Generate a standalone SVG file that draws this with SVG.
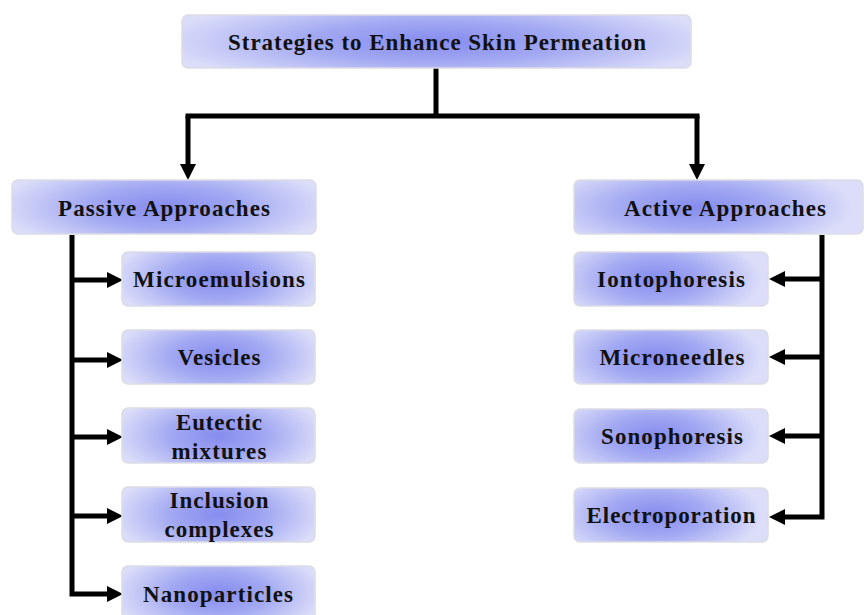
<svg xmlns="http://www.w3.org/2000/svg" width="864" height="615" viewBox="0 0 864 615">
<style>
.box{stroke:#dcdce6;stroke-width:1.5}
.t{font-family:"Liberation Serif","Times New Roman",serif;font-weight:bold;font-size:23px;fill:#111;text-anchor:middle}
.c{fill:none;stroke:#000;stroke-width:5}
</style>
<defs>
<radialGradient id="g" cx="0.5" cy="0.5" r="1" gradientTransform="translate(0.5 0.5) scale(0.55 0.85) translate(-0.5 -0.5)">
<stop offset="0" stop-color="#858cee"/>
<stop offset="0.45" stop-color="#a2a8f2"/>
<stop offset="1" stop-color="#dcdef9"/>
</radialGradient>
<radialGradient id="gl" cx="0.5" cy="0.5" r="1" gradientTransform="translate(0.42 0.5) scale(0.55 0.85) translate(-0.5 -0.5)">
<stop offset="0" stop-color="#858cee"/>
<stop offset="0.45" stop-color="#a2a8f2"/>
<stop offset="1" stop-color="#dcdef9"/>
</radialGradient>
<marker id="a" viewBox="0 0 16 16" refX="1" refY="8" markerWidth="16" markerHeight="16" markerUnits="userSpaceOnUse" orient="auto">
<path d="M0,0 L16,8 L0,16 z" fill="#000"/>
</marker>
</defs>
<g id="connectors">
<path class="c" d="M436,68 V116"/>
<path class="c" d="M185.5,116 H699.5"/>
<path class="c" d="M188,116 V165" marker-end="url(#a)"/>
<path class="c" d="M697,116 V165" marker-end="url(#a)"/>
<path class="c" d="M72,235 V594 H108" marker-end="url(#a)"/>
<path class="c" d="M72,280 H108" marker-end="url(#a)"/>
<path class="c" d="M72,360 H108" marker-end="url(#a)"/>
<path class="c" d="M72,437 H108" marker-end="url(#a)"/>
<path class="c" d="M72,516 H108" marker-end="url(#a)"/>
<path class="c" d="M822,235 V517 H784" marker-end="url(#a)"/>
<path class="c" d="M822,279 H784" marker-end="url(#a)"/>
<path class="c" d="M822,357 H784" marker-end="url(#a)"/>
<path class="c" d="M822,436 H784" marker-end="url(#a)"/>
</g>
<g id="root"><rect class="box" x="182" y="15" width="509" height="53" rx="6" fill="url(#g)"/><text class="t" x="437" y="50" textLength="418" lengthAdjust="spacing">Strategies to Enhance Skin Permeation</text></g>
<g id="passive"><rect class="box" x="12" y="180" width="304" height="54" rx="6" fill="url(#g)"/><text class="t" x="164" y="216" textLength="212" lengthAdjust="spacing">Passive Approaches</text></g>
<g id="active"><rect class="box" x="574" y="180" width="289" height="54" rx="6" fill="url(#gl)"/><text class="t" x="725" y="216" textLength="202" lengthAdjust="spacing">Active Approaches</text></g>
<g id="microemulsions"><rect class="box" x="122" y="252" width="193" height="54" rx="6" fill="url(#g)"/><text class="t" x="219" y="287" textLength="172" lengthAdjust="spacing">Microemulsions</text></g>
<g id="vesicles"><rect class="box" x="122" y="330" width="193" height="54" rx="6" fill="url(#g)"/><text class="t" x="219" y="365" textLength="83" lengthAdjust="spacing">Vesicles</text></g>
<g id="eutectic"><rect class="box" x="122" y="408" width="193" height="55" rx="6" fill="url(#g)"/><text class="t" x="219" y="430" textLength="86" lengthAdjust="spacing">Eutectic</text><text class="t" x="219" y="459" textLength="95" lengthAdjust="spacing">mixtures</text></g>
<g id="inclusion"><rect class="box" x="122" y="487" width="193" height="55" rx="6" fill="url(#g)"/><text class="t" x="219" y="508" textLength="99" lengthAdjust="spacing">Inclusion</text><text class="t" x="219" y="537" textLength="109" lengthAdjust="spacing">complexes</text></g>
<g id="nanoparticles"><rect class="box" x="122" y="566" width="193" height="54" rx="6" fill="url(#g)"/><text class="t" x="218" y="602" textLength="150" lengthAdjust="spacing">Nanoparticles</text></g>
<g id="iontophoresis"><rect class="box" x="574" y="252" width="194" height="54" rx="6" fill="url(#gl)"/><text class="t" x="671" y="287" textLength="148" lengthAdjust="spacing">Iontophoresis</text></g>
<g id="microneedles"><rect class="box" x="574" y="330" width="194" height="54" rx="6" fill="url(#gl)"/><text class="t" x="672" y="365" textLength="145" lengthAdjust="spacing">Microneedles</text></g>
<g id="sonophoresis"><rect class="box" x="574" y="409" width="194" height="54" rx="6" fill="url(#gl)"/><text class="t" x="672" y="444" textLength="142" lengthAdjust="spacing">Sonophoresis</text></g>
<g id="electroporation"><rect class="box" x="574" y="488" width="194" height="54" rx="6" fill="url(#gl)"/><text class="t" x="671" y="523" textLength="169" lengthAdjust="spacing">Electroporation</text></g>
</svg>
